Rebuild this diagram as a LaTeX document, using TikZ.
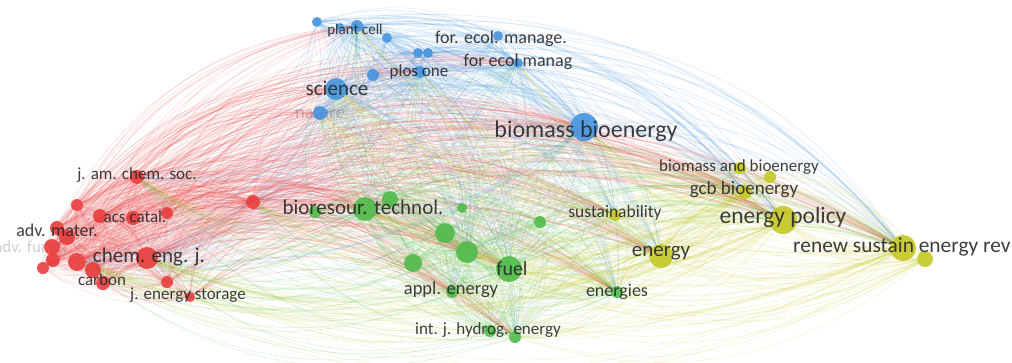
\documentclass[tikz,border=0pt]{standalone}
\usepackage{fontspec}
\setmainfont{Carlito}
\pgfdeclarelayer{links}
\pgfsetlayers{links,main}
\definecolor{vosred}{RGB}{232,58,58}
\definecolor{vosblue}{RGB}{66,146,221}
\definecolor{vosgreen}{RGB}{78,186,72}
\definecolor{vosyellow}{RGB}{196,198,34}
\definecolor{tagtext}{RGB}{40,40,40}

\def\journals{
  pcA/317/22/5/vosblue, pcB/340/27/4/vosblue, plantcell/357/26/6/vosblue,
  pcC/387/38/5/vosblue, plosA/418/53/5/vosblue, plosB/428/53/5/vosblue,
  plosC/373/75/6/vosblue, plosone/420/72/6/vosblue, forecoA/498/36/5/vosblue,
  forecol/518/63/5/vosblue, science/336/89/11/vosblue, nature/320/113/7/vosblue,
  biomass/584/127/14/vosblue,
  jacs/137/177/7/vosred, rA/77/205/6/vosred, acs/100/216/7/vosred,
  rB/133/218/7/vosred, rC/167/213/6/vosred, rD/57/228/7/vosred,
  rE/67/237/8/vosred, rF/52/247/8/vosred, rG/53/260/7/vosred,
  rH/43/268/6/vosred, rI/77/262/9/vosred, rJ/93/270/8/vosred,
  chemeng/147/258/11/vosred, carbon/103/283/7/vosred, rK/167/282/6/vosred,
  estor/190/297/5/vosred, rL/253/202/7/vosred,
  gA/315/212/6/vosgreen, bioresour/365/209/12/vosgreen, gB/390/199/8/vosgreen,
  gC/462/208/5/vosgreen, gD/540/222/6/vosgreen, gE/445/233/10/vosgreen,
  gF/467/252/11/vosgreen, gG/413/263/9/vosgreen, fuel/509/269/13/vosgreen,
  appl/452/292/6/vosgreen, energies/617/292/6/vosgreen, hydA/490/331/6/vosgreen,
  hydrog/515/337/6/vosgreen,
  sustain/615/215/6/vosyellow, energy/661/256/12/vosyellow, bbA/740/168/6/vosyellow,
  bbB/770/177/6/vosyellow, gcb/745/192/7/vosyellow, policy/783/220/14/vosyellow,
  renew/903/248/13/vosyellow, rvA/925/259/8/vosyellow}

\def\hubs{biomass, science, nature, plantcell, plosone, forecol, chemeng, jacs,
  rI, rL, bioresour, fuel, gF, appl, energies, hydrog, energy, policy, renew,
  gcb, sustain}

\def\bigs{biomass/vosblue, science/vosblue, chemeng/vosred, rI/vosred,
  bioresour/vosgreen, fuel/vosgreen, gF/vosgreen, energy/vosyellow,
  policy/vosyellow, renew/vosyellow, gcb/vosyellow}

\begin{document}
\begin{tikzpicture}[x=1pt, y=-1pt,
  journal/.style={circle, inner sep=0pt, draw=none, fill opacity=0.9},
  tag/.style={inner sep=0pt, text=tagtext, text opacity=0.9},
  faint/.style={tag, text opacity=0.22},
  link/.style={line width=0.7pt, draw opacity=0.16},
  mate/.style={line width=0.6pt, draw opacity=0.14},
  heavy/.style={line width=1.8pt, draw opacity=0.12}
]
  \useasboundingbox (0,0) rectangle (1012,362);

  \node[faint, anchor=west, font=\fontsize{17}{17}\selectfont] (t-advfunct)
    at (-6,247) {adv. funct.};
  \node[faint, font=\fontsize{18.5}{18.5}\selectfont] (t-nature) at (320,113) {nature};

  \foreach \n/\x/\y/\r/\c in \journals
    \node[journal, fill=\c, minimum size={2*\r pt}] (\n) at (\x,\y) {};

  \begin{pgfonlayer}{links}
    \foreach \n/\x/\y/\r/\c in \journals
      \foreach \h in \hubs {
        \edef\srcname{\n}\edef\dstname{\h}
        \ifx\srcname\dstname\else
          \draw[link, draw=\c] (\n) to[bend left=28] (\h);
        \fi
      }
    \foreach \n/\x/\y/\r/\c in \journals
      \foreach \m/\u/\v/\s/\k in \journals {
        \edef\srcname{\n}\edef\dstname{\m}
        \edef\srccol{\c}\edef\dstcol{\k}
        \ifx\srccol\dstcol
          \ifx\srcname\dstname\else
            \draw[mate, draw=\c] (\n) to[bend left=22] (\m);
          \fi
        \fi
      }
    \foreach \n/\c in \bigs
      \foreach \m/\k in \bigs {
        \edef\srcname{\n}\edef\dstname{\m}
        \ifx\srcname\dstname\else
          \draw[heavy, draw=\c] (\n) to[bend left=20] (\m);
        \fi
      }
  \end{pgfonlayer}

  \foreach \n/\x/\y/\s/\t in {
    plantcell/355/30/15/plant cell, foreco/501/39/18/for. ecol. manage.,
    forecol/518/62/18/for ecol manag, plosone/419/72/17/plos one,
    science/337/88/21/science, biomass/586/131/24/biomass bioenergy,
    jacs/137/175/17/j. am. chem. soc., acs/135/217/17/acs catal.,
    advmater/57/230/18/adv. mater., chemeng/149/257/21/chem. eng. j.,
    carbon/102/280/17/carbon, estor/188/295/17/j. energy storage,
    bioresour/363/207/21/bioresour. technol., fuel/512/269/20/fuel,
    appl/451/290/18.5/appl. energy, energies/617/292/18/energies,
    hydrog/488/330/17/int. j. hydrog. energy, sustain/615/213/17.5/sustainability,
    energy/661/253/21/energy, bbio/739/167/17/biomass and bioenergy,
    gcb/744/190/19/gcb bioenergy, policy/783/217/23.5/energy policy}
    \node[tag, font=\fontsize{\s}{\s}\selectfont] (t-\n) at (\x,\y) {\t};

  \node[tag, anchor=west, font=\fontsize{21.4}{21.4}\selectfont] (t-renew)
    at (793,247) {renew sustain energy rev};
\end{tikzpicture}
\end{document}
